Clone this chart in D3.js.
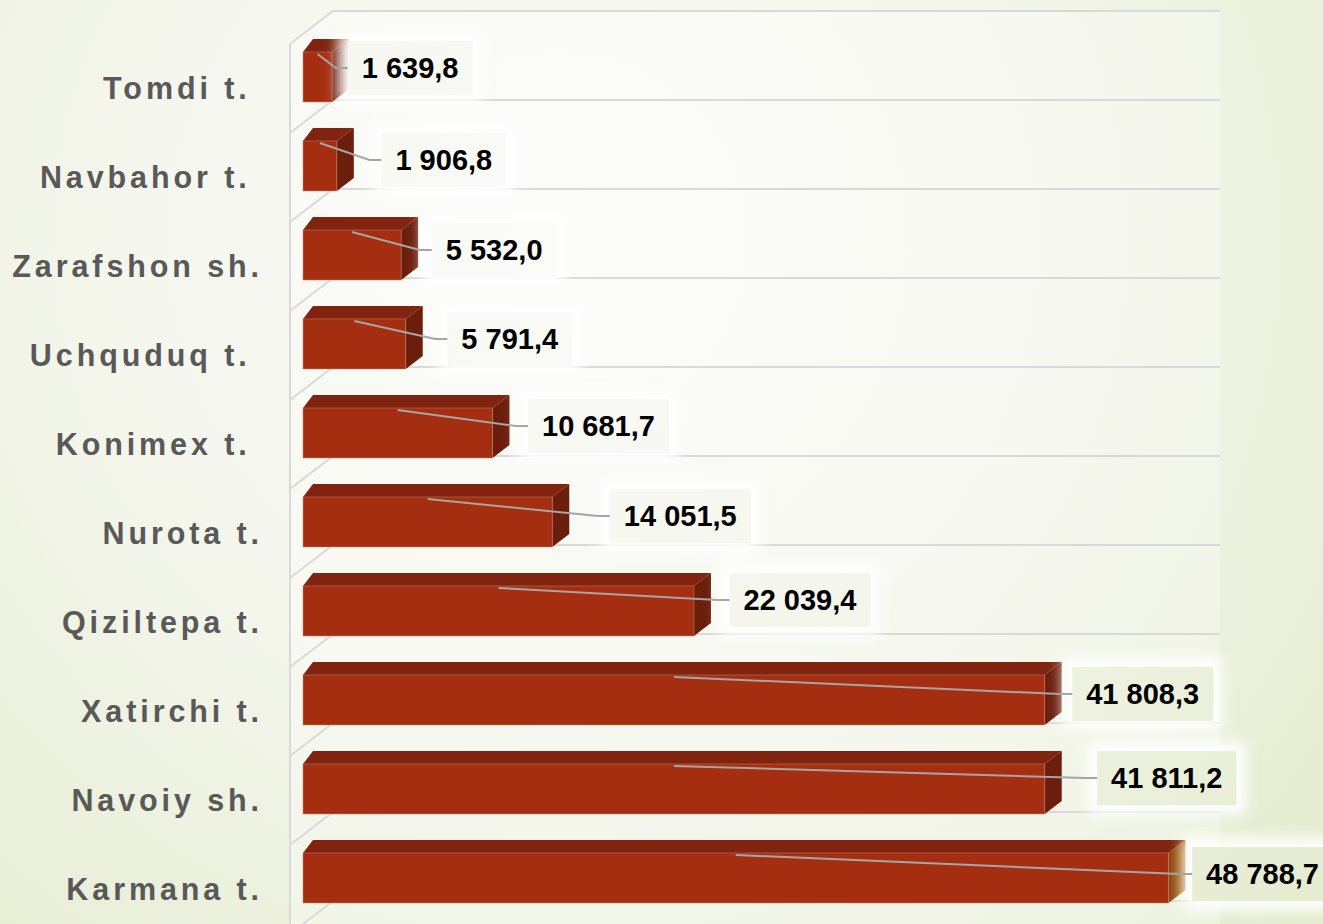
<!DOCTYPE html>
<html>
<head>
<meta charset="utf-8">
<script src="https://cdn.jsdelivr.net/npm/d3@7"></script>
<style>
  html, body { margin: 0; padding: 0; }
  body { width: 1323px; height: 924px; overflow: hidden; }
  svg { display: block; }
  .cat { white-space: pre; }
</style>
</head>
<body>
<svg id="chart" width="1323" height="924"></svg>
<script>
// ---- data ----
const categories = ["Tomdi t. ", "Navbahor t. ", "Zarafshon sh.", "Uchquduq t. ", "Konimex t. ",
                    "Nurota t.", "Qiziltepa t.", "Xatirchi t.", "Navoiy sh.", "Karmana t."];
const values = [1639.8, 1906.8, 5532.0, 5791.4, 10681.7, 14051.5, 22039.4, 41808.3, 41811.2, 48788.7];
const valueLabels = ["1 639,8", "1 906,8", "5 532,0", "5 791,4", "10 681,7", "14 051,5",
                     "22 039,4", "41 808,3", "41 811,2", "48 788,7"];
// manual label placement (offset of label centre from bar end / band middle)
const labelDx = [78, 107, 93, 104, 106, 128, 106, 98, 122, 94];
const labelDy = [-9, -6, -5, -5, -7, -6, -11, -6, -11, -4];

// ---- layout ----
const svg = d3.select("#chart");
const W = 1323, H = 924;
const defs = svg.append("defs");

const bg = defs.append("radialGradient").attr("id", "bg")
  .attr("gradientUnits", "userSpaceOnUse")
  .attr("cx", 560).attr("cy", 240).attr("r", 1050);
bg.append("stop").attr("offset", 0).attr("stop-color", "#fbfbf8");
bg.append("stop").attr("offset", 0.45).attr("stop-color", "#f4f6ec");
bg.append("stop").attr("offset", 1).attr("stop-color", "#e3ebcd");

const glow = defs.append("filter").attr("id", "glow")
  .attr("x", "-50%").attr("y", "-50%").attr("width", "200%").attr("height", "200%");
glow.append("feGaussianBlur").attr("stdDeviation", 7);

const sideGrad = defs.append("linearGradient").attr("id", "sideLast")
  .attr("x1", 0).attr("x2", 1).attr("y1", 0).attr("y2", 0);
sideGrad.append("stop").attr("offset", 0).attr("stop-color", "#8a4510");
sideGrad.append("stop").attr("offset", 1).attr("stop-color", "#a8650f");

svg.append("rect").attr("width", W).attr("height", H).attr("fill", "url(#bg)");

const x = d3.scaleLinear().domain([0, 50000]).range([303, 1190]);
const y = d3.scaleBand().domain(categories).range([13, 903])
  .paddingInner(0.438).paddingOuter(0.219).align(1);

const step = y.step();
const gridTop = 11;
const wallLeft = 290, wallBack = 333, wallRight = 1220, depthY = 33;

// walls
svg.append("path")
  .attr("d", `M${wallLeft},${gridTop + depthY} L${wallBack},${gridTop} L${wallRight},${gridTop} L${wallRight},${H} L${wallLeft},${H} Z`)
  .attr("fill", "#ffffff").attr("fill-opacity", 0.3);

const gridIdx = d3.range(categories.length + 1);
const grid = svg.append("g").attr("stroke", "#d9d9d9").attr("stroke-width", 2).attr("fill", "none");
grid.selectAll("path").data(gridIdx).join("path")
  .attr("d", i => {
    const gy = gridTop + i * step;
    return `M${wallLeft},${gy + depthY} L${wallBack},${gy} L${wallRight},${gy}`;
  });
grid.append("line").attr("x1", wallLeft).attr("x2", wallLeft)
  .attr("y1", gridTop + depthY).attr("y2", H);

// category labels
svg.append("g").selectAll("text").data(categories).join("text")
  .attr("class", "cat")
  .attr("x", 263).attr("y", d => y(d) + 36)
  .attr("text-anchor", "end").attr("dominant-baseline", "central")
  .attr("font-family", "Liberation Sans, Arial, sans-serif")
  .attr("font-weight", "bold").attr("font-size", 30.5)
  .attr("letter-spacing", 3.9).attr("fill", "#595959")
  .text(d => d);

// 3D bars
const dxL = 10, dxR = 17, dz = 13, bw = y.bandwidth();
const bars = svg.append("g").selectAll("g").data(categories).join("g");
bars.append("path") // top face
  .attr("d", (c, i) => {
    const t = y(c), x0 = x(0), x1 = x(values[i]);
    return `M${x0},${t} L${x0 + dxL},${t - dz} L${x1 + dxR},${t - dz} L${x1},${t} Z`;
  })
  .attr("fill", "#80240f");
bars.append("path") // side face
  .attr("d", (c, i) => {
    const t = y(c), x1 = x(values[i]);
    return `M${x1},${t} L${x1 + dxR},${t - dz} L${x1 + dxR},${t + bw - dz} L${x1},${t + bw} Z`;
  })
  .attr("fill", (c, i) => i === categories.length - 1 ? "url(#sideLast)" : "#6c1e0c");
bars.append("rect") // front face
  .attr("x", x(0)).attr("y", c => y(c))
  .attr("width", (c, i) => x(values[i]) - x(0)).attr("height", bw)
  .attr("fill", "#a52e11")
  .attr("stroke", "#c98672").attr("stroke-width", 0.8).attr("stroke-opacity", 0.6);

// value labels
const fontSize = 29, padX = 14, boxH = 54;
const lab = categories.map((c, i) => {
  const cx = x(values[i]) + labelDx[i];
  const cy = y(c) + bw / 2 + labelDy[i];
  return { c, i, cx, cy };
});
const lg = svg.append("g");
const tmp = lg.append("text").attr("font-family", "Liberation Sans, Arial, sans-serif")
  .attr("font-weight", "bold").attr("font-size", fontSize);
lab.forEach(d => { tmp.text(valueLabels[d.i]); d.w = tmp.node().getComputedTextLength() + 2 * padX; });
tmp.remove();

lg.selectAll("rect.glow").data(lab).join("rect").attr("class", "glow")
  .attr("x", d => d.cx - d.w / 2 - 9).attr("y", d => d.cy - boxH / 2 - 9)
  .attr("width", d => d.w + 18).attr("height", boxH + 18)
  .attr("fill", "#ffffff").attr("filter", "url(#glow)");
lg.selectAll("rect.box").data(lab).join("rect").attr("class", "box")
  .attr("x", d => d.cx - d.w / 2).attr("y", d => d.cy - boxH / 2)
  .attr("width", d => d.w).attr("height", boxH)
  .attr("fill", "url(#bg)");

lg.selectAll("path.leader").data(lab).join("path").attr("class", "leader")
  .attr("d", d => {
    const sx = x(0) + (x(values[d.i]) - x(0)) / 2, sy = y(d.c) + 2;
    const ex = d.cx - d.w / 2;
    return `M${sx},${sy} L${ex - 12},${d.cy} L${ex},${d.cy}`;
  })
  .attr("fill", "none").attr("stroke", "#a6a6a6").attr("stroke-width", 2);

lg.selectAll("text.val").data(lab).join("text").attr("class", "val")
  .attr("x", d => d.cx).attr("y", d => d.cy)
  .attr("text-anchor", "middle").attr("dominant-baseline", "central")
  .attr("font-family", "Liberation Sans, Arial, sans-serif")
  .attr("font-weight", "bold").attr("font-size", fontSize).attr("fill", "#000")
  .text(d => valueLabels[d.i]);
</script>
</body>
</html>
